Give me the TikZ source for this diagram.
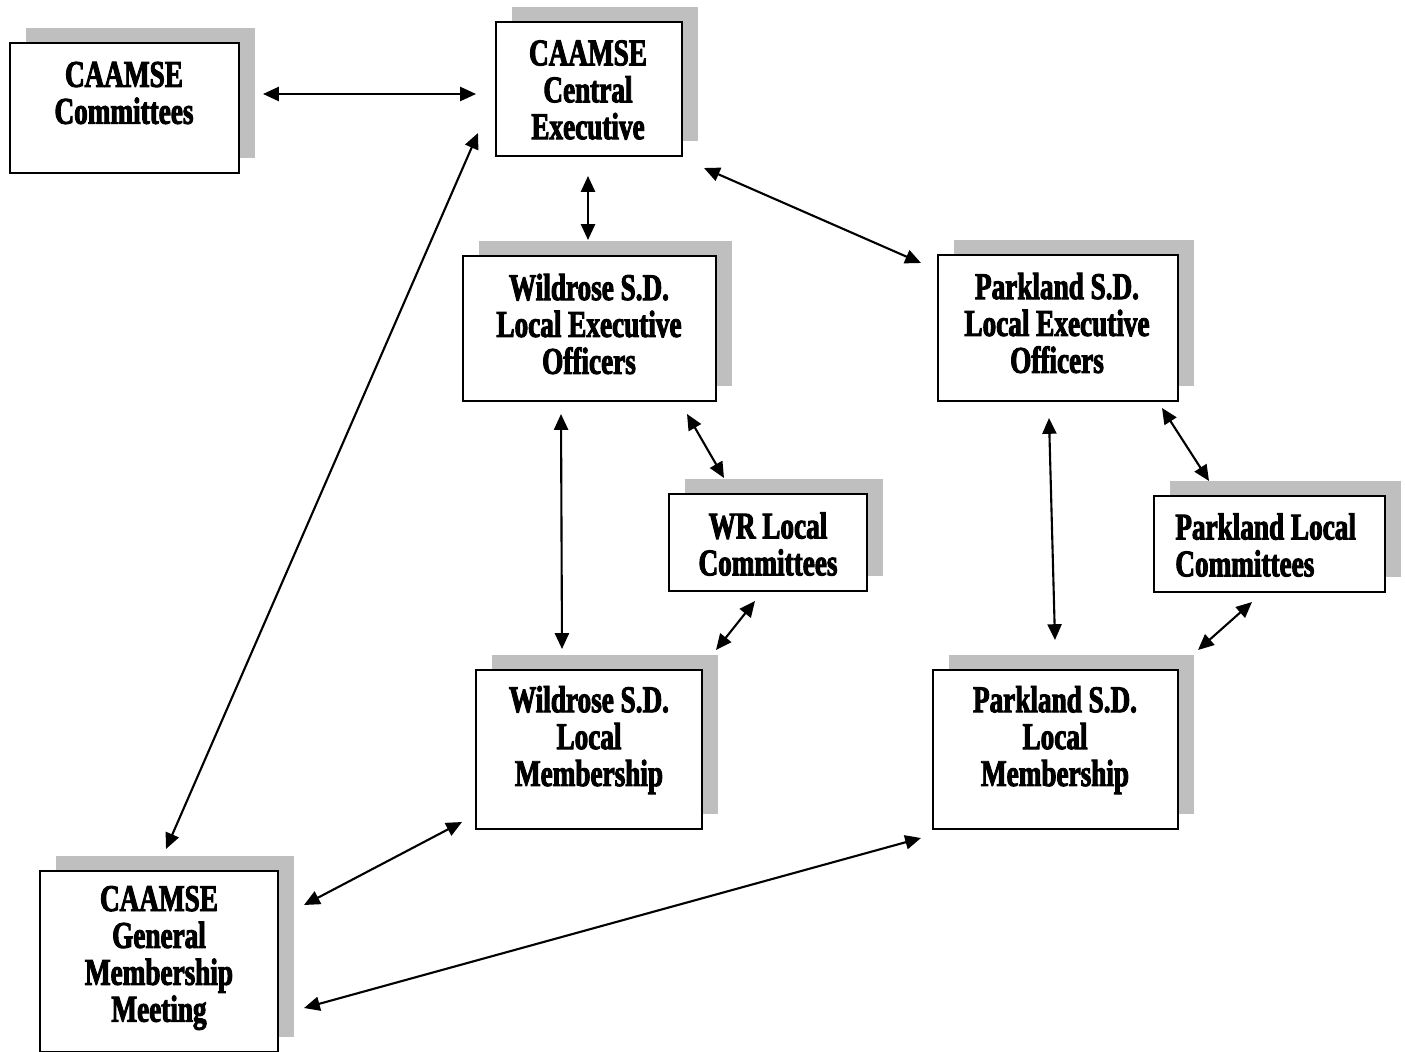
\documentclass[tikz,border=0pt]{standalone}
\usepackage{fontspec}
\newfontfamily\hfont[FakeStretch=0.72,BoldFeatures={FakeBold=2.5}]{Liberation Serif}
\usetikzlibrary{arrows.meta,fit,shadows}
\begin{document}
\begin{tikzpicture}[x=0.02cm,y=-0.02cm,
  box/.style={draw=black,line width=1.15pt,fill=white,inner sep=0pt,
    general shadow={fill=black!25,shadow xshift=0.32cm,shadow yshift=0.31cm}},
  txt/.style={align=center,inner sep=0pt,font=\hfont\bfseries\fontsize{21.5}{21}\selectfont},
  arr/.style={line width=1.2pt,{Triangle[length=9pt,width=8pt]}-{Triangle[length=9pt,width=8pt]}}]
\useasboundingbox (0,0) rectangle (1405,1051);
% boxes
\node[box,fit={(10,43) (239,173)}] (comm) {};
\node[box,fit={(496,22) (682,156)}] (cen) {};
\node[box,fit={(463,256) (716,401)}] (wleo) {};
\node[box,fit={(938,255) (1178,401)}] (pleo) {};
\node[box,fit={(669,494) (867,591)}] (wlc) {};
\node[box,fit={(1154,496) (1385,592)}] (plc) {};
\node[box,fit={(476,670) (702,829)}] (wmem) {};
\node[box,fit={(933,670) (1178,829)}] (pmem) {};
\node[box,fit={(40,871) (278,1052)}] (gen) {};
% texts
\node[txt] (tcomm) at (124,93) {CAAMSE\\Committees};
\node[txt] (tcen) at (588,90) {CAAMSE\\Central\\Executive};
\node[txt] (twleo) at (589,324) {Wildrose S.D.\\Local Executive\\Officers};
\node[txt] (tpleo) at (1057,323) {Parkland S.D.\\Local Executive\\Officers};
\node[txt] (twlc) at (768,544) {WR Local\\Committees};
\node[txt,align=left,anchor=west] (tplc) at (1175,545) {Parkland Local\\Committees};
\node[txt] (twmem) at (589,740) {Wildrose S.D.\\Local\\Membership};
\node[txt] (tpmem) at (1055,740) {Parkland S.D.\\Local\\Membership};
\node[txt] (tgen) at (159,958) {CAAMSE\\General\\Membership\\Meeting};
% connector ends
\coordinate (a1) at (263,94);   \coordinate (b1) at (476,94);
\coordinate (a2) at (588,176);  \coordinate (b2) at (588,240);
\coordinate (a3) at (704,168);  \coordinate (b3) at (921,263);
\coordinate (a4) at (478,133);  \coordinate (b4) at (166,849);
\coordinate (a5) at (561,414);  \coordinate (b5) at (562,649);
\coordinate (a6) at (687,414);  \coordinate (b6) at (724,478);
\coordinate (a7) at (1049,418); \coordinate (b7) at (1055,640);
\coordinate (a8) at (1162,408); \coordinate (b8) at (1209,481);
\coordinate (a9) at (755,601);  \coordinate (b9) at (716,650);
\coordinate (a10) at (1252,602); \coordinate (b10) at (1198,650);
\coordinate (a11) at (462,822); \coordinate (b11) at (304,905);
\coordinate (a12) at (921,838); \coordinate (b12) at (304,1008);
\foreach \i in {1,...,12} {\draw[arr] (a\i) -- (b\i);}
\end{tikzpicture}
\end{document}
